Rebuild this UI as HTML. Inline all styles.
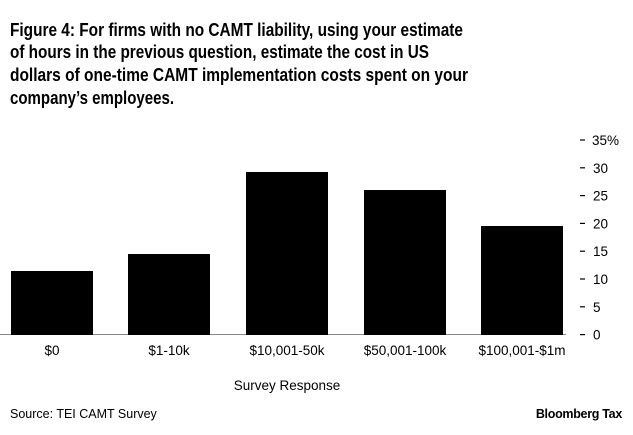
<!DOCTYPE html>
<html><head><meta charset="utf-8"><style>
html,body{margin:0;padding:0;background:#fff;}
svg{display:block;font-family:"Liberation Sans",Arial,sans-serif;}
</style></head><body>
<svg width="633" height="435" viewBox="0 0 633 435">
<g font-weight="bold" font-size="18.5" fill="#000">
<text x="10" y="36" textLength="453" lengthAdjust="spacingAndGlyphs">Figure 4: For firms with no CAMT liability, using your estimate</text>
<text x="10" y="58" textLength="419" lengthAdjust="spacingAndGlyphs">of hours in the previous question, estimate the cost in US</text>
<text x="10" y="81" textLength="458" lengthAdjust="spacingAndGlyphs">dollars of one-time CAMT implementation costs spent on your</text>
<text x="10" y="104" textLength="164" lengthAdjust="spacingAndGlyphs">company’s employees.</text>
</g>
<line x1="0" y1="334.5" x2="566" y2="334.5" stroke="#888" stroke-width="1"/>
<g fill="#000">
<rect x="11" y="271" width="82" height="64"/>
<rect x="128" y="254" width="82" height="81"/>
<rect x="246" y="172" width="82" height="163"/>
<rect x="364" y="190" width="82" height="145"/>
<rect x="481" y="226" width="82" height="109"/>
</g>
<g font-size="13.5" fill="#000">
<g stroke="#000" stroke-width="1.2">
<line x1="580" y1="140" x2="585" y2="140"/><line x1="580" y1="167.8" x2="585" y2="167.8"/>
<line x1="580" y1="195.6" x2="585" y2="195.6"/><line x1="580" y1="223.4" x2="585" y2="223.4"/>
<line x1="580" y1="251.2" x2="585" y2="251.2"/><line x1="580" y1="279" x2="585" y2="279"/>
<line x1="580" y1="306.8" x2="585" y2="306.8"/><line x1="580" y1="334.6" x2="585" y2="334.6"/>
</g>
<text x="592" y="145">35%</text><text x="593" y="172.8">30</text>
<text x="593" y="200.6">25</text><text x="593" y="228.4">20</text>
<text x="593" y="256.2">15</text><text x="593" y="284">10</text>
<text x="593" y="311.8">5</text><text x="593" y="339.6">0</text>
<g text-anchor="middle">
<text x="52" y="355">$0</text>
<text x="169" y="355">$1-10k</text>
<text x="287" y="355">$10,001-50k</text>
<text x="405" y="355">$50,001-100k</text>
<text x="522" y="355">$100,001-$1m</text>
<text x="287" y="390">Survey Response</text>
</g>
<text x="10" y="418" font-size="12.5">Source: TEI CAMT Survey</text>
<text x="622" y="418" font-size="12.5" font-weight="bold" text-anchor="end" letter-spacing="-0.3">Bloomberg Tax</text>
</g>
</svg>
</body></html>
